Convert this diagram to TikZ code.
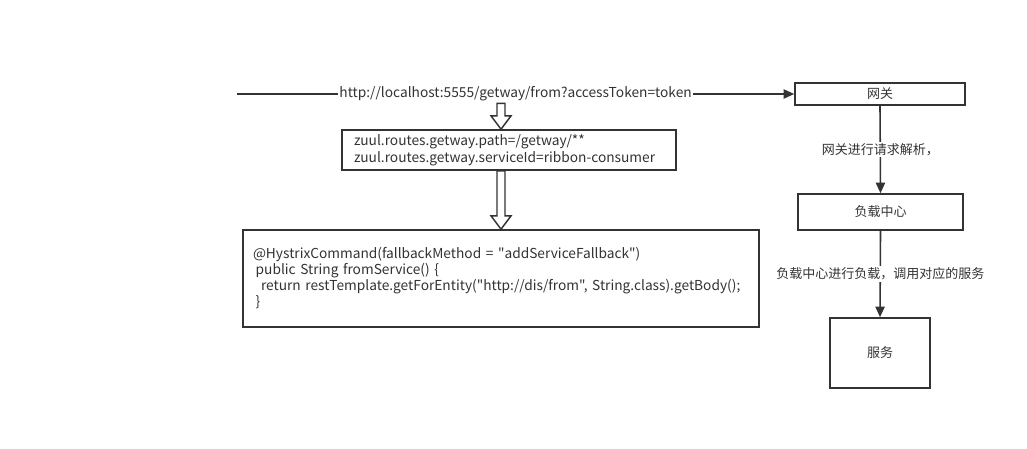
\documentclass[tikz,border=0pt]{standalone}
\usepackage{fontspec}
\setmainfont{Noto Sans CJK SC}[Ligatures=TeXOff]
\usetikzlibrary{arrows.meta,calc}
\definecolor{ink}{HTML}{333333}

\begin{document}
\begin{tikzpicture}
[x=0.75pt,y=-0.75pt,%
  every node/.style={font=\fontsize{9.75pt}{12pt}\selectfont,text=ink},%
  latin/.style={font=\fontsize{10.3pt}{12pt}\selectfont},%
  box/.style={draw=ink,line width=1.2pt,inner sep=0pt},%
  lbl/.style={fill=white,inner sep=1pt},%
  flow/.style={draw=ink,line width=1.2pt,-{Triangle[length=8pt,width=7pt]}},%
  hollow/.style={draw=ink,line width=1.1pt,fill=white,line join=miter}]
\useasboundingbox (0,0) rectangle (1027,449);
%%
\node[box,minimum width=127.5pt,minimum height=16.5pt] (gw) at (880,94) {网关};
\node[box,minimum width=123.75pt,minimum height=27pt] (lb) at (880.5,212) {负载中心};
\node[box,minimum width=75pt,minimum height=52.5pt] (svc) at (880,353) {服务};
%%
\node[box,text width=232.5pt,inner xsep=9pt,minimum height=30pt,align=left,
  font=\fontsize{10.3pt}{12.75pt}\selectfont] (zuul) at (509,150)
  {zuul.routes.getway.path=/getway/**\\zuul.routes.getway.serviceId=ribbon-consumer};
\node[box,latin,text width=372pt,inner xsep=7.5pt,minimum height=72.75pt,align=left] (code) at (501,278.5)
  {@HystrixCommand(fallbackMethod = "addServiceFallback")\\
   \hspace*{2pt}public String fromService() \{\\
   \hspace*{6pt}return restTemplate.getForEntity("http://dis/from", String.class).getBody();\\
   \hspace*{2pt}\}};
%%
\coordinate (start) at (237,94);
\path[flow] (start) -- node[lbl,latin] (url) {http://localhost:5555/getway/from?accessToken=token} (gw.west);
\path[flow] (gw.south) -- node[lbl] (parse) {网关进行请求解析，} (lb.north);
\path[flow] (lb.south) -- node[lbl] (call) {负载中心进行负载，调用对应的服务} (svc.north);
%%
\coordinate (h1) at (url.south -| code.north);
\coordinate (h2) at (zuul.north -| code.north);
\coordinate (h3) at (zuul.south -| code.north);
\foreach \fromNode/\toNode in {h1/h2, h3/code.north}
{
  \path[hollow] let \p1=(\fromNode), \p2=(\toNode) in
    (\x1-3pt,\y1) -- (\x1-3pt,\y2+10pt) -- (\x1-7.5pt,\y2+10pt) -- (\x1,\y2)
    -- (\x1+7.5pt,\y2+10pt) -- (\x1+3pt,\y2+10pt) -- (\x1+3pt,\y1) -- cycle;
}
\end{tikzpicture}
\end{document}
